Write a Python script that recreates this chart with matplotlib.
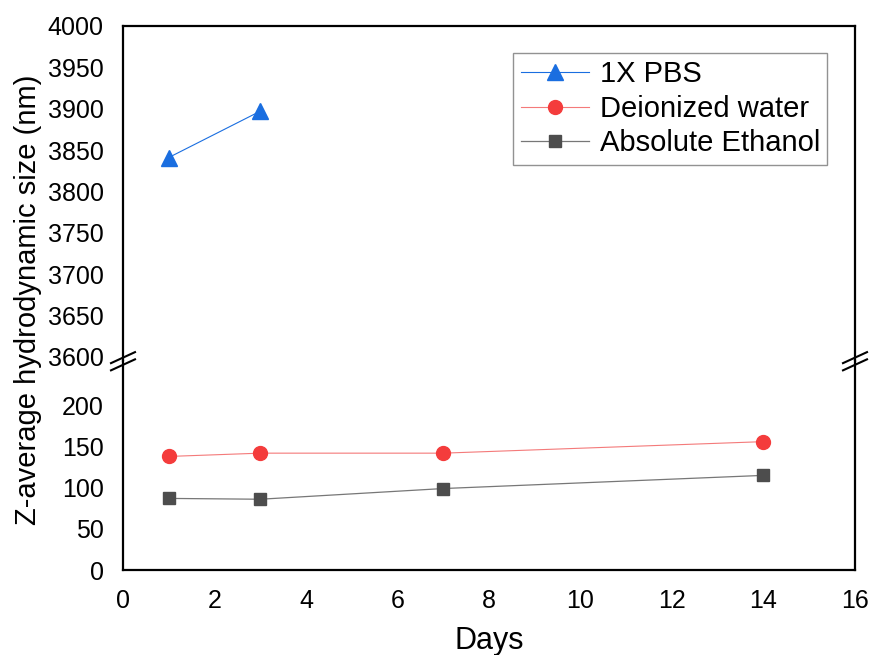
import numpy as np
import matplotlib.pyplot as plt

plt.rcParams['font.family'] = ['Liberation Sans', 'DejaVu Sans']

days_pbs = [1, 3]
pbs = [3841, 3897]
days = [1, 3, 7, 14]
water = [138, 142, 142, 156]
ethanol = [87, 86, 99, 115]
xticks = [0, 2, 4, 6, 8, 10, 12, 14, 16]
top_ticks = [3600, 3650, 3700, 3750, 3800, 3850, 3900, 3950, 4000]
bot_ticks = [0, 50, 100, 150, 200]

fig = plt.figure(figsize=(8.7, 6.55), dpi=100)
left, right = 123 / 870, 855 / 870
y_top, y_brk, y_bot = 1 - 26 / 655, 1 - 361 / 655, 1 - 570 / 655
ax1 = fig.add_axes([left, y_brk, right - left, y_top - y_brk])
ax2 = fig.add_axes([left, y_bot, right - left, y_brk - y_bot])

for ax in (ax1, ax2):
    ax.plot(days_pbs, pbs, color='#1a6ee0', lw=0.8, marker='^', ms=12,
            mfc='#1a6ee0', mec='#1a6ee0', label='1X PBS')
    ax.plot(days, water, color='#f47a7a', lw=0.8, marker='o', ms=10,
            mfc='#f43c3c', mec='#f43c3c', label='Deionized water')
    ax.plot(days, ethanol, color='#777777', lw=0.9, marker='s', ms=9,
            mfc='#4d4d4d', mec='#4d4d4d', label='Absolute Ethanol')
    ax.set_xlim(0, 16)
    ax.tick_params(length=0, labelsize=18)
    ax.tick_params(axis='y', pad=14)
    for s in ax.spines.values():
        s.set_linewidth(1.6)

ax1.set_ylim(3595, 4000)
ax1.set_yticks(top_ticks)
ax1.set_xticks([])
ax1.spines['bottom'].set_visible(False)

ax2.set_ylim(0, 254)
ax2.set_yticks(bot_ticks)
ax2.set_xticks(xticks)
ax2.spines['top'].set_visible(False)
ax2.tick_params(axis='x', pad=14)

ax2.set_xlabel('Days', fontsize=22, labelpad=9)
fig.text(0.032, 0.542, 'Z-average hydrodynamic size (nm)',
         rotation=90, va='center', ha='center', fontsize=21)

leg = ax1.legend(loc='upper right', bbox_to_anchor=(0.962, 0.919), fontsize=21,
                 frameon=True, fancybox=False, edgecolor='#777777',
                 handlelength=2.35, handletextpad=0.35, borderpad=0.25,
                 labelspacing=0.22, borderaxespad=0)
leg.get_frame().set_linewidth(1.0)

# break marks
for xf in (left, right):
    for yc in (0.454, 0.443):
        x0 = xf - 12 / 870
        x1 = xf + 12 / 870
        fig.add_artist(plt.Line2D([x0, x1], [yc - 0.0084, yc + 0.0084],
                                  color='black', lw=1.5, transform=fig.transFigure))

fig.savefig('out.png', dpi=100)
